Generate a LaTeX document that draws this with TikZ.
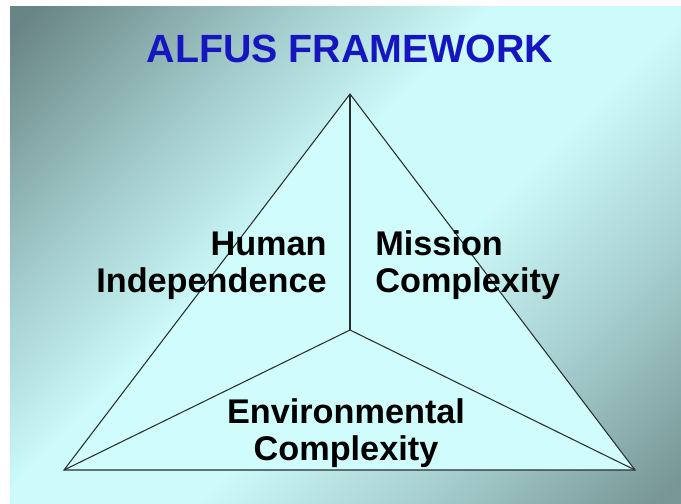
\documentclass[tikz,border=0pt]{standalone}
\usepackage{fontspec}
\setmainfont{Liberation Sans}
\usepackage{tikz}
\usetikzlibrary{positioning,calc}
\definecolor{bgdark}{RGB}{105,132,132}
\definecolor{bgmid}{RGB}{160,200,200}
\definecolor{bglight}{RGB}{205,250,250}
\definecolor{bgmid2}{RGB}{165,205,205}
\definecolor{bgdark2}{RGB}{120,150,150}
\definecolor{trifill}{RGB}{208,252,252}
\definecolor{titleblue}{RGB}{22,22,192}
\definecolor{edgegray}{RGB}{40,45,45}
\pgfdeclarehorizontalshading{slidebg}{100bp}{color(0bp)=(bgdark); color(16bp)=(bgdark); color(31bp)=(bgmid); color(44bp)=(bglight); color(56bp)=(bglight); color(70bp)=(bgmid2); color(84bp)=(bgdark2); color(100bp)=(bgdark2)}
\tikzset{
  lbl/.style={font=\fontsize{19.5}{20.5}\selectfont\bfseries, inner sep=0pt, text=black},
  edge/.style={draw=edgegray, line width=0.6pt}
}

\begin{document}
\begin{tikzpicture}[x=0.02cm, y=-0.02cm]
\useasboundingbox (0,0) rectangle (681,504);
% Background
\fill[white] (0,0) rectangle (681,504);
\fill[shading=slidebg, shading angle=-45] (10,6) rectangle (681,504);
% Title
\node[font=\fontsize{22.4}{24}\selectfont\bfseries, text=titleblue, inner sep=0pt, anchor=base] (title) at (350,62) {ALFUS FRAMEWORK};
% Corners
\coordinate (ap) at (350,94);
\coordinate (bl) at (64,470);
\coordinate (br) at (635,470);
\coordinate (ctr) at (350,330);
% Triangle
\fill[trifill] (ap)--(br)--(bl)--cycle;
\draw[edge] (ctr)--(ap);
\draw[edge] (ctr)--(bl);
\draw[edge] (ctr)--(br);
\draw[edge, line join=miter] (ap)--(br)--(bl)--cycle;
% Labels (base = last line)
\node[lbl, align=right, anchor=base east] (human) at (327,292) {Human\\Independence};
\node[lbl, align=left, anchor=base west] (mission) at (375,292) {Mission\\Complexity};
\node[lbl, align=center, anchor=base] (env) at (346,460) {Environmental\\Complexity};
\end{tikzpicture}
\end{document}
